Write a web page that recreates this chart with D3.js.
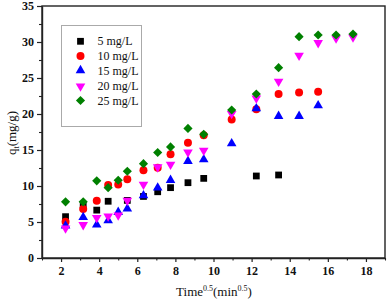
<!DOCTYPE html>
<html><head><meta charset="utf-8">
<script src="https://cdn.jsdelivr.net/npm/d3@7"></script>
<style>
body{margin:0;background:#fff;}
svg{display:block;font-family:"Liberation Serif","Times New Roman",serif;}
</style></head>
<body><svg id="c" width="387" height="305"></svg>
<script>
const timeSqrt = [2.236,3.162,3.873,4.472,5.0,5.477,6.325,7.071,7.746,8.660,9.487,10.954,12.247,13.416,14.491,15.492,16.432,17.321];
const s5  = [5.74,7.36,6.65,7.88,null,8.0,8.55,9.2,9.77,10.46,11.06,null,11.39,11.53,null,null,null,null];
const s10 = [5.05,6.8,7.96,10.14,10.2,10.93,12.2,12.55,14.4,16.0,17.05,19.25,20.65,22.78,23.0,23.1,null,null];
const s15 = [4.4,5.6,4.55,5.14,6.3,6.76,8.6,9.68,10.74,13.38,13.6,15.83,20.7,19.63,19.63,21.1,null,null];
const s20 = [4.2,4.67,5.65,5.88,6.0,8.05,10.28,12.69,13.05,14.77,15.0,20.1,22.27,24.58,28.2,29.95,30.6,30.74];
const s25 = [7.8,7.8,10.72,9.77,10.8,12.05,13.1,14.65,15.43,18.0,17.18,20.55,22.78,26.43,30.74,30.97,30.97,31.1];
const seriesNames = ["5 mg/L","10 mg/L","15 mg/L","20 mg/L","25 mg/L"];
const xTicks = [2,4,6,8,10,12,14,16,18];
const yTicks = [0,5,10,15,20,25,30,35];

const series = [
  {name:seriesNames[0], vals:s5,  color:"#000000", sym:d3.symbolSquare, size:46},
  {name:seriesNames[1], vals:s10, color:"#ff0000", sym:d3.symbolCircle, size:50},
  {name:seriesNames[2], vals:s15, color:"#0000ff", sym:d3.symbolTriangle, size:40, dy:-0.5},
  {name:seriesNames[3], vals:s20, color:"#ff00ff", sym:d3.symbolTriangle, size:40, rot:180, dy:0.5},
  {name:seriesNames[4], vals:s25, color:"#008000", sym:d3.symbolSquare, size:42, rot:45}
];

const svg = d3.select("#c");
const L=42, R=385, T=6, B=258;
const x = d3.scaleLinear().domain([1,19]).range([L,R]);
const y = d3.scaleLinear().domain([0,35]).range([B,T]);

// frame
svg.append("rect").attr("x",L).attr("y",T).attr("width",R-L).attr("height",B-T)
  .attr("fill","none").attr("stroke","#222").attr("stroke-width",1.4);

// x axis
const xAxis = d3.axisBottom(x).tickValues(xTicks).tickSize(4).tickSizeOuter(0).tickPadding(4);
const gx = svg.append("g").attr("transform",`translate(0,${B})`).call(xAxis);
gx.select(".domain").attr("stroke","#222").attr("stroke-width",1.4);
gx.selectAll(".tick line").attr("stroke","#222").attr("stroke-width",1.2);
gx.selectAll("text").attr("font-size",12).attr("font-weight","bold").attr("fill","#111")
  .attr("font-family","Liberation Serif");
const gxm = svg.append("g").attr("transform",`translate(0,${B})`)
  .call(d3.axisBottom(x).tickValues(d3.range(1,20,2)).tickSize(2.5).tickFormat("").tickSizeOuter(0));
gxm.select(".domain").remove();
gxm.selectAll(".tick line").attr("stroke","#222").attr("stroke-width",1.1);

// y axis
const yAxis = d3.axisLeft(y).tickValues(yTicks).tickSize(5).tickSizeOuter(0).tickPadding(3);
const gy = svg.append("g").attr("transform",`translate(${L},0)`).call(yAxis);
gy.select(".domain").attr("stroke","#222").attr("stroke-width",1.4);
gy.selectAll(".tick line").attr("stroke","#222").attr("stroke-width",1.2);
gy.selectAll("text").attr("font-size",12).attr("font-weight","bold").attr("fill","#111")
  .attr("font-family","Liberation Serif");
const gym = svg.append("g").attr("transform",`translate(${L},0)`)
  .call(d3.axisLeft(y).tickValues(d3.range(2.5,35,5)).tickSize(3).tickFormat("").tickSizeOuter(0));
gym.select(".domain").remove();
gym.selectAll(".tick line").attr("stroke","#222").attr("stroke-width",1.1);

// axis titles
const xt = svg.append("text").attr("x",214).attr("y",296).attr("text-anchor","middle")
  .attr("font-size",13).attr("fill","#111");
xt.append("tspan").text("Time");
xt.append("tspan").attr("font-size",8).attr("dy",-5).text("0.5");
xt.append("tspan").attr("dy",5).text("(min");
xt.append("tspan").attr("font-size",8).attr("dy",-5).text("0.5");
xt.append("tspan").attr("dy",5).text(")");

const yt = svg.append("text").attr("transform","translate(16,133) rotate(-90)")
  .attr("text-anchor","middle").attr("font-size",13).attr("fill","#111");
yt.append("tspan").text("q");
yt.append("tspan").attr("font-size",8).attr("dy",3).text("t");
yt.append("tspan").attr("dy",-3).text("(mg/g)");

// points
series.forEach(s=>{
  const sym = d3.symbol().type(s.sym).size(s.size);
  const pts = timeSqrt.map((t,i)=>({t, v:s.vals[i]})).filter(d=>d.v!=null);
  svg.append("g").selectAll("path").data(pts).join("path")
    .attr("d",sym)
    .attr("transform",d=>`translate(${x(d.t)},${y(d.v)+(s.dy||0)})${s.rot?` rotate(${s.rot})`:""}`)
    .attr("fill",s.color);
});

// legend
const lg = svg.append("g");
lg.append("rect").attr("x",61.5).attr("y",25.5).attr("width",80).attr("height",101)
  .attr("fill","#fff").attr("stroke","#aaa").attr("stroke-width",1);
series.forEach((s,i)=>{
  const yy = 41.3 + i*14.8;
  lg.append("path").attr("d",d3.symbol().type(s.sym).size(s.size)())
    .attr("transform",`translate(80.5,${yy+(s.dy||0)})${s.rot?` rotate(${s.rot})`:""}`)
    .attr("fill",s.color);
  lg.append("text").attr("x",97.5).attr("y",yy+4).attr("font-size",12).attr("fill","#111")
    .text(s.name);
});
</script></body></html>
